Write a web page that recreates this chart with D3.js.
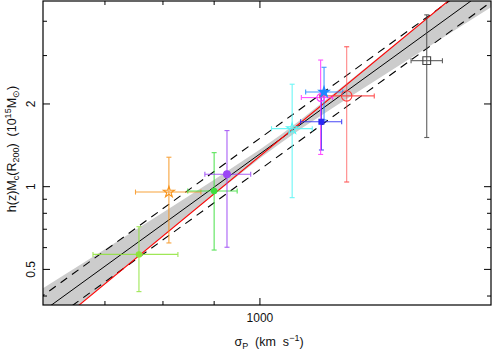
<!DOCTYPE html>
<html>
<head>
<meta charset="utf-8">
<script src="https://cdn.jsdelivr.net/npm/d3@7"></script>
<style>
  body { margin: 0; background: #fff; }
  svg { font-family: "Liberation Sans", Arial, sans-serif; }
  .tick-label { font-size: 12px; fill: #111; }
  .axis-label { font-size: 12.5px; fill: #111; }
</style>
</head>
<body>
<script>
// cluster sample: velocity dispersion vs caustic mass
var sigma   = [757, 811, 900, 927, 1077, 1152, 1150, 1159, 1221, 1468];
var sigmaLo = [681, 751, 847, 881, 1027, 1098, 1100, 1111, 1148, 1416];
var sigmaHi = [828, 873, 949, 979, 1128, 1207, 1182, 1210, 1301, 1522];
var mass    = [0.567, 0.956, 0.965, 1.11, 1.626, 1.724, 2.11, 2.21, 2.14, 2.875];
var massLo  = [0.415, 0.624, 0.588, 0.602, 0.912, 1.36, 1.31, 1.75, 1.04, 1.51];
var massHi  = [0.715, 1.28, 1.33, 1.60, 2.36, 2.14, 2.89, 2.72, 3.23, 4.22];
var colors  = ["#8fe33a", "#f7941d", "#3ee03e", "#9b45f5", "#55f5f5",
               "#2a2af5", "#ff33ff", "#1e88ff", "#ff3b3b", "#444444"];
var markers = ["circle", "star", "circle", "circle", "star",
               "square", "ocircle", "fstar", "ocircleplus", "osquare"];

// best fit, its scatter band and the virial (slope 3) relation
var fitLine    = [[600, 0.3417], [1800, 6.21]];
var fitUpper   = [[600, 0.3895], [1800, 7.08]];
var fitLower   = [[600, 0.2997], [1800, 5.45]];
var virialLine = [[600, 0.279], [1800, 7.54]];

var bandSigma = [600, 700, 800, 900, 1000, 1050, 1100, 1200, 1400, 1600, 1800];
var bandLow   = [0.2807, 0.4446, 0.6616, 0.9365, 1.268, 1.446, 1.627, 2.004, 2.867, 3.899, 5.11];
var bandHigh  = [0.4158, 0.5925, 0.8057, 1.0595, 1.366, 1.550, 1.761, 2.262, 3.567, 5.31, 7.55];

var xMajor = [1000];
var xMinor = [700, 800, 900];
var yMajor = [0.5, 1, 2];
var yMinor = [0.4, 0.6, 0.7, 0.8, 0.9, 3, 4];

var W = 493, H = 354;
var margin = {top: 1, right: 2, bottom: 49, left: 43};
var x0 = margin.left, x1 = W - margin.right, y0 = H - margin.bottom, y1 = margin.top;

var xScale = d3.scaleLog().domain([607, 1702]).range([x0, x1]);
var yScale = d3.scaleLog().domain([0.371, 4.74]).range([y0, y1]);

var svg = d3.select("body").append("svg")
  .attr("width", W)
  .attr("height", H);

svg.append("clipPath").attr("id", "plotclip")
  .append("rect")
  .attr("x", x0).attr("y", y1)
  .attr("width", x1 - x0).attr("height", y0 - y1);

var plot = svg.append("g").attr("clip-path", "url(#plotclip)");

// grey band
var band = d3.area()
  .x(function(d, i) { return xScale(bandSigma[i]); })
  .y0(function(d, i) { return yScale(bandLow[i]); })
  .y1(function(d, i) { return yScale(bandHigh[i]); });
plot.append("path")
  .datum(bandSigma)
  .attr("d", band)
  .attr("fill", "#cccccc");

var line = d3.line()
  .x(function(d) { return xScale(d[0]); })
  .y(function(d) { return yScale(d[1]); });

plot.append("path").datum(fitUpper).attr("d", line)
  .attr("fill", "none").attr("stroke", "#000").attr("stroke-width", 1.1)
  .attr("stroke-dasharray", "8,6");
plot.append("path").datum(fitLower).attr("d", line)
  .attr("fill", "none").attr("stroke", "#000").attr("stroke-width", 1.1)
  .attr("stroke-dasharray", "8,6");
plot.append("path").datum(fitLine).attr("d", line)
  .attr("fill", "none").attr("stroke", "#000").attr("stroke-width", 1);
plot.append("path").datum(virialLine).attr("d", line)
  .attr("fill", "none").attr("stroke", "#ff0000").attr("stroke-width", 1.1);

// error bars
var cap = 2.5;
sigma.forEach(function(s, i) {
  var g = plot.append("g")
    .attr("stroke", colors[i])
    .attr("stroke-width", 1.1)
    .attr("opacity", 0.85);
  var cx = xScale(s), cy = yScale(mass[i]);
  var xa = xScale(sigmaLo[i]), xb = xScale(sigmaHi[i]);
  var ya = yScale(massLo[i]), yb = yScale(massHi[i]);
  g.append("line").attr("x1", xa).attr("x2", xb).attr("y1", cy).attr("y2", cy);
  g.append("line").attr("x1", xa).attr("x2", xa).attr("y1", cy - cap).attr("y2", cy + cap);
  g.append("line").attr("x1", xb).attr("x2", xb).attr("y1", cy - cap).attr("y2", cy + cap);
  g.append("line").attr("x1", cx).attr("x2", cx).attr("y1", ya).attr("y2", yb)
    .attr("opacity", i == 8 ? 0.7 : 1);
  g.append("line").attr("x1", cx - cap).attr("x2", cx + cap).attr("y1", ya).attr("y2", ya);
  g.append("line").attr("x1", cx - cap).attr("x2", cx + cap).attr("y1", yb).attr("y2", yb);
});

// markers
sigma.forEach(function(s, i) {
  var cx = xScale(s), cy = yScale(mass[i]);
  var m = markers[i], c = colors[i];
  var sym, size, filled = true;
  if (m == "circle") { sym = d3.symbolCircle; size = i == 3 ? 36 : 22; }
  else if (m == "star") { sym = d3.symbolStar; size = 38; filled = false; }
  else if (m == "fstar") { sym = d3.symbolStar; size = 34; }
  else if (m == "square") { sym = d3.symbolSquare; size = 24; }
  else if (m == "ocircle") { sym = d3.symbolCircle; size = 45; filled = false; }
  else if (m == "ocircleplus") { sym = d3.symbolCircle; size = 85; filled = false; }
  else if (m == "osquare") { sym = d3.symbolSquare; size = 60; filled = false; }
  plot.append("path")
    .attr("d", d3.symbol().type(sym).size(size)())
    .attr("transform", "translate(" + cx + "," + cy + ")")
    .attr("fill", filled ? c : "none")
    .attr("stroke", c)
    .attr("stroke-width", 1.1);
});

// frame
svg.append("rect")
  .attr("x", x0).attr("y", y1)
  .attr("width", x1 - x0).attr("height", y0 - y1)
  .attr("fill", "none").attr("stroke", "#000").attr("stroke-width", 1.2);

var ticks = svg.append("g").attr("stroke", "#000").attr("stroke-width", 1);
xMajor.concat(xMinor).forEach(function(v) {
  var len = xMajor.indexOf(v) >= 0 ? 7 : 4;
  var px = xScale(v);
  ticks.append("line").attr("x1", px).attr("x2", px).attr("y1", y0).attr("y2", y0 - len);
  ticks.append("line").attr("x1", px).attr("x2", px).attr("y1", y1).attr("y2", y1 + len);
});
yMajor.concat(yMinor).forEach(function(v) {
  var len = yMajor.indexOf(v) >= 0 ? 7 : 4;
  var py = yScale(v);
  ticks.append("line").attr("x1", x0).attr("x2", x0 + len).attr("y1", py).attr("y2", py);
  ticks.append("line").attr("x1", x1).attr("x2", x1 - len).attr("y1", py).attr("y2", py);
});

xMajor.forEach(function(v) {
  svg.append("text").attr("class", "tick-label")
    .attr("x", xScale(v)).attr("y", y0 + 17)
    .attr("text-anchor", "middle")
    .text(d3.format("d")(v));
});
yMajor.forEach(function(v) {
  svg.append("text").attr("class", "tick-label")
    .attr("transform", "translate(" + (x0 - 8) + "," + yScale(v) + ") rotate(-90)")
    .attr("text-anchor", "middle")
    .text(v);
});

// axis titles
var xl = svg.append("text").attr("class", "axis-label")
  .attr("x", 269).attr("y", 346)
  .attr("text-anchor", "middle");
xl.append("tspan").text("\u03C3");
xl.append("tspan").attr("font-size", "9px").attr("dy", 3).text("P");
xl.append("tspan").attr("dy", -3).text("\u00A0\u00A0(km\u00A0\u00A0s");
xl.append("tspan").attr("font-size", "9px").attr("dy", -5).text("\u22121");
xl.append("tspan").attr("dy", 5).text(")");

var yl = svg.append("text").attr("class", "axis-label")
  .attr("transform", "translate(16,149) rotate(-90)")
  .attr("text-anchor", "middle");
yl.append("tspan").text("h(z)M");
yl.append("tspan").attr("font-size", "9px").attr("dy", 3).text("c");
yl.append("tspan").attr("dy", -3).text("(R");
yl.append("tspan").attr("font-size", "9px").attr("dy", 3).text("200");
yl.append("tspan").attr("dy", -3).text(")\u00A0\u00A0(10");
yl.append("tspan").attr("font-size", "9px").attr("dy", -5).text("15");
yl.append("tspan").attr("dy", 5).text("M");
yl.append("tspan").attr("font-size", "9px").attr("dy", 3).text("\u2299");
yl.append("tspan").attr("dy", -3).text(")");
</script>
</body>
</html>
